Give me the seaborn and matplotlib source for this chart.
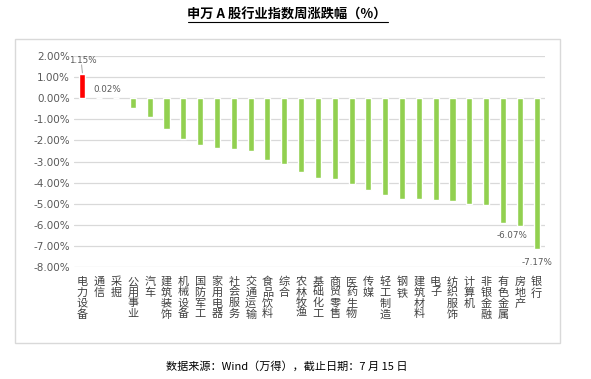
import numpy as np
import pandas as pd
import seaborn as sns
import matplotlib.pyplot as plt
from matplotlib.patches import Rectangle
from matplotlib.lines import Line2D

# industry names and weekly change (%)
industries = ["电力设备", "通信", "采掘", "公用事业", "汽车", "建筑装饰", "机械设备",
              "国防军工", "家用电器", "社会服务", "交通运输", "食品饮料", "综合", "农林牧渔",
              "基础化工", "商贸零售", "医药生物", "传媒", "轻工制造", "钢铁", "建筑材料",
              "电子", "纺织服饰", "计算机", "非银金融", "有色金属", "房地产", "银行"]
changes = [1.15, 0.02, 0.00, -0.45, -0.87, -1.44, -1.91, -2.20, -2.34, -2.40, -2.50,
           -2.91, -3.10, -3.52, -3.76, -3.82, -4.05, -4.35, -4.57, -4.76, -4.76, -4.82,
           -4.87, -5.00, -5.06, -5.90, -6.07, -7.17]
y_ticks = [2, 1, 0, -1, -2, -3, -4, -5, -6, -7, -8]
labelled = {"电力设备": (0.0, 1.78), "通信": (0.5, 0.42), "房地产": (-0.45, -6.52), "银行": (0.0, -7.78)}

sns.set_style("white")
plt.rcParams["font.family"] = ["Noto Sans CJK SC", "DejaVu Sans"]

W, H = 591, 379
fig = plt.figure(figsize=(W / 100, H / 100), dpi=100)

# chart area frame
fig.add_artist(Rectangle((15 / W, 1 - 343 / H), 545 / W, 304 / H, transform=fig.transFigure,
                         fill=False, edgecolor="#D9D9D9", linewidth=1))

ax = fig.add_axes([74 / W, 1 - 267 / H, 471 / W, 211 / H])
df = pd.DataFrame({"industry": industries, "change": changes})
colors = {n: ("#FF0000" if v > 0 else "#92D050") for n, v in zip(industries, changes)}
sns.barplot(data=df, x="industry", y="change", hue="industry", palette=colors,
            legend=False, width=0.36, ax=ax, saturation=1)

ax.set_ylim(-8, 2)
ax.set_xlim(-0.5, len(industries) - 0.5)
ax.set_yticks(y_ticks)
ax.set_yticklabels([f"{t:.2f}%" for t in y_ticks], fontsize=7.5, color="#595959",
                   family="DejaVu Sans")
ax.set_xticks(range(len(industries)))
ax.set_xticklabels(["\n".join(n) for n in industries], fontsize=8, color="#404040",
                   va="top", linespacing=1.08)
ax.tick_params(axis="both", length=0, pad=3)
ax.tick_params(axis="x", pad=7)
for t in y_ticks:
    ax.axhline(t, color="#D9D9D9", linewidth=0.9, zorder=0)
for s in ax.spines.values():
    s.set_visible(False)
ax.set_xlabel("")
ax.set_ylabel("")

for name, (dx, ly) in labelled.items():
    i = industries.index(name)
    v = changes[i]
    ax.text(i + dx, ly, f"{v:.2f}%", ha="center", va="center", fontsize=6.3,
            color="#595959", family="DejaVu Sans")
# leader line for the first label
ax.plot([-0.05, 0.0], [1.58, 1.2], color="#A6A6A6", linewidth=0.7)

# title with underline
fig.text(287 / W, 1 - 15 / H, "申万 A 股行业指数周涨跌幅（%）", ha="center", va="center",
         fontsize=9.5, fontweight="bold", color="#000000")
fig.add_artist(Line2D([188 / W, 388 / W], [1 - 22 / H, 1 - 22 / H], transform=fig.transFigure,
                      color="#000000", linewidth=0.8))

fig.text(287 / W, 1 - 366 / H, "数据来源：Wind（万得），截止日期：7 月 15 日", ha="center",
         va="center", fontsize=8, style="italic", color="#000000")

fig.savefig("out.png", dpi=100)
